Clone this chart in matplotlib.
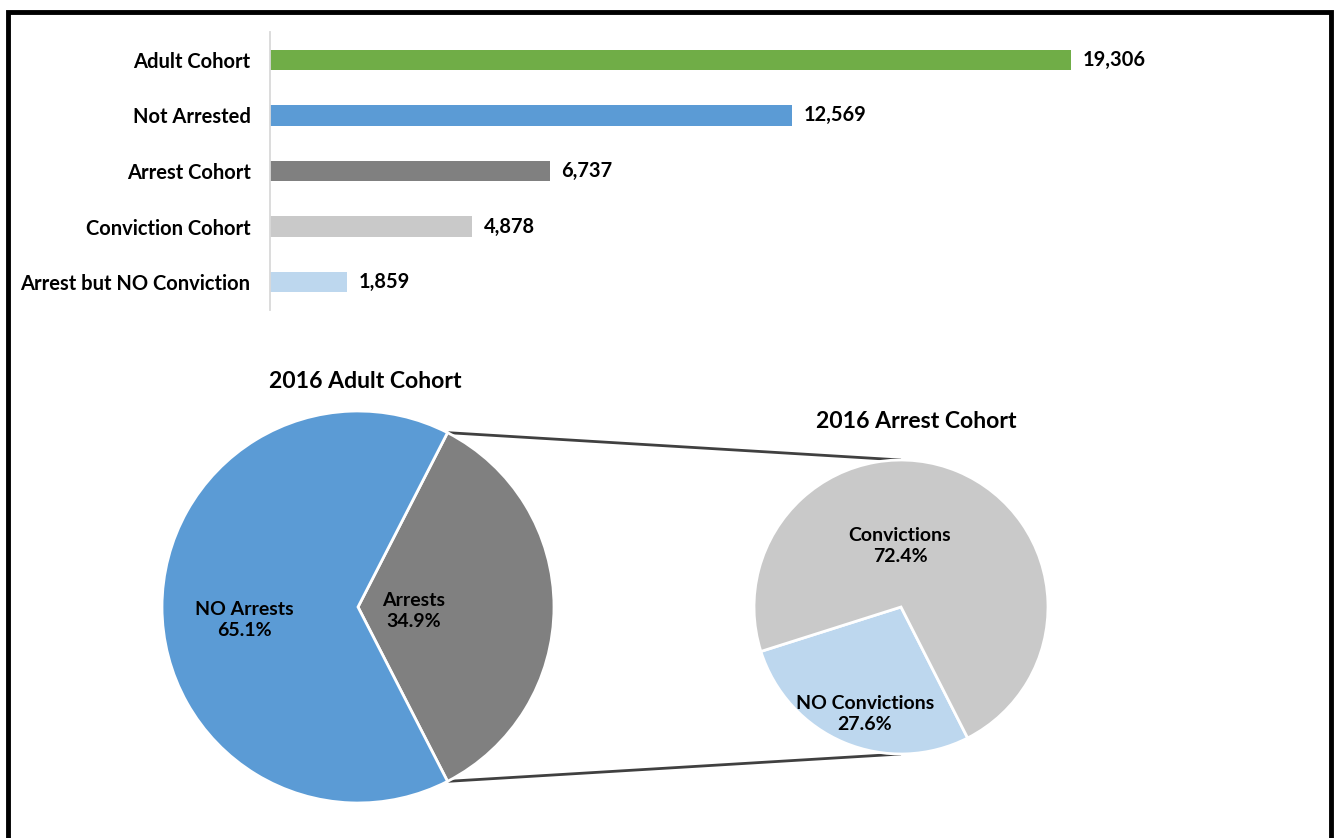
#!/usr/bin/env python3
"""Adult cohort bar chart with bar-of-pie breakdown of the arrest cohort."""

import numpy as np
import matplotlib

matplotlib.use("Agg")
import matplotlib.pyplot as plt

plt.rcParams["font.family"] = ["Lato", "DejaVu Sans"]
plt.rcParams["font.weight"] = "bold"

# ---------------------------------------------------------------------------
# Data
# ---------------------------------------------------------------------------

bar_labels = ["Adult Cohort", "Not Arrested", "Arrest Cohort",
              "Conviction Cohort", "Arrest but NO Conviction"]
bar_values = [19306, 12569, 6737, 4878, 1859]
bar_colors = ["#70AD47", "#5B9BD5", "#808080", "#C9C9C9", "#BDD7EE"]

adult_labels = ["Arrests", "NO Arrests"]
adult_pcts = [34.9, 65.1]
adult_colors = ["#808080", "#5B9BD5"]

arrest_labels = ["NO Convictions", "Convictions"]
arrest_pcts = [27.6, 72.4]
arrest_colors = ["#BDD7EE", "#C9C9C9"]

W, H = 1337, 838
fig = plt.figure(figsize=(W / 100, H / 100), dpi=100)

# ---------------------------------------------------------------------------
# Bar chart (top)
# ---------------------------------------------------------------------------
axb = fig.add_axes([270 / W, 1 - 310 / H, (1183 - 270) / W, (310 - 32) / H])
y = np.arange(len(bar_values))
axb.barh(y, bar_values, height=0.37, color=bar_colors)
axb.set_ylim(len(bar_values) - 0.5, -0.5)
axb.set_xlim(0, 22000)
axb.set_yticks(y)
axb.set_yticklabels(bar_labels, fontsize=14.5, fontweight="bold")
axb.tick_params(axis="y", length=0, pad=14)
axb.set_xticks([])
for s in ("top", "right", "bottom"):
    axb.spines[s].set_visible(False)
axb.spines["left"].set_color("#D9D9D9")
axb.spines["left"].set_linewidth(1.3)
for yi, v in zip(y, bar_values):
    axb.text(v + 280, yi, f"{v:,}", va="center", ha="left",
             fontsize=14.4, fontweight="bold")

# ---------------------------------------------------------------------------
# Pies (bottom), drawn in a pixel-unit axes
# ---------------------------------------------------------------------------
ax = fig.add_axes([0, 0, 1, 1])

c1, r1 = (358, H - 607), 196
c2, r2 = (901, H - 607), 147

span1 = adult_pcts[0] / 100 * 360
start1 = -span1 / 2
ax.pie(adult_pcts, colors=adult_colors, center=c1, radius=r1,
       startangle=start1, counterclock=True,
       wedgeprops=dict(edgecolor="white", linewidth=2))

ax.pie(arrest_pcts, colors=arrest_colors, center=c2, radius=r2,
       startangle=197.6, counterclock=True,
       wedgeprops=dict(edgecolor="white", linewidth=2))

# pie() resets the limits, so fix them afterwards
ax.set_xlim(0, W)
ax.set_ylim(0, H)
ax.set_aspect("equal")
ax.axis("off")

# connector lines from the arrest wedge to the second pie
for ang, yend in ((start1 + span1, c2[1] + r2), (start1, c2[1] - r2)):
    a = np.deg2rad(ang)
    ax.plot([c1[0] + r1 * np.cos(a), c2[0]],
            [c1[1] + r1 * np.sin(a), yend],
            color="#404040", linewidth=2, solid_capstyle="butt", zorder=0)

lab_kw = dict(ha="center", va="center", fontsize=14, fontweight="bold",
              linespacing=1.3)
ax.text(244, H - 620, f"{adult_labels[1]}\n{adult_pcts[1]}%", **lab_kw)
ax.text(414, H - 611, f"{adult_labels[0]}\n{adult_pcts[0]}%", **lab_kw)
ax.text(900, H - 546, f"{arrest_labels[1]}\n{arrest_pcts[1]}%", **lab_kw)
ax.text(865, H - 714, f"{arrest_labels[0]}\n{arrest_pcts[0]}%", **lab_kw)

ax.text(365, H - 381, "2016 Adult Cohort", ha="center", va="center",
        fontsize=16.6, fontweight="bold")
ax.text(916, H - 421, "2016 Arrest Cohort", ha="center", va="center",
        fontsize=16.6, fontweight="bold")

# outer frame (no bottom edge visible)
ax.plot([8, 8, 1331, 1331], [0, H - 12, H - 12, 0], color="black",
        linewidth=3.5, solid_joinstyle="miter", clip_on=False)

fig.savefig("out.png", dpi=100)
